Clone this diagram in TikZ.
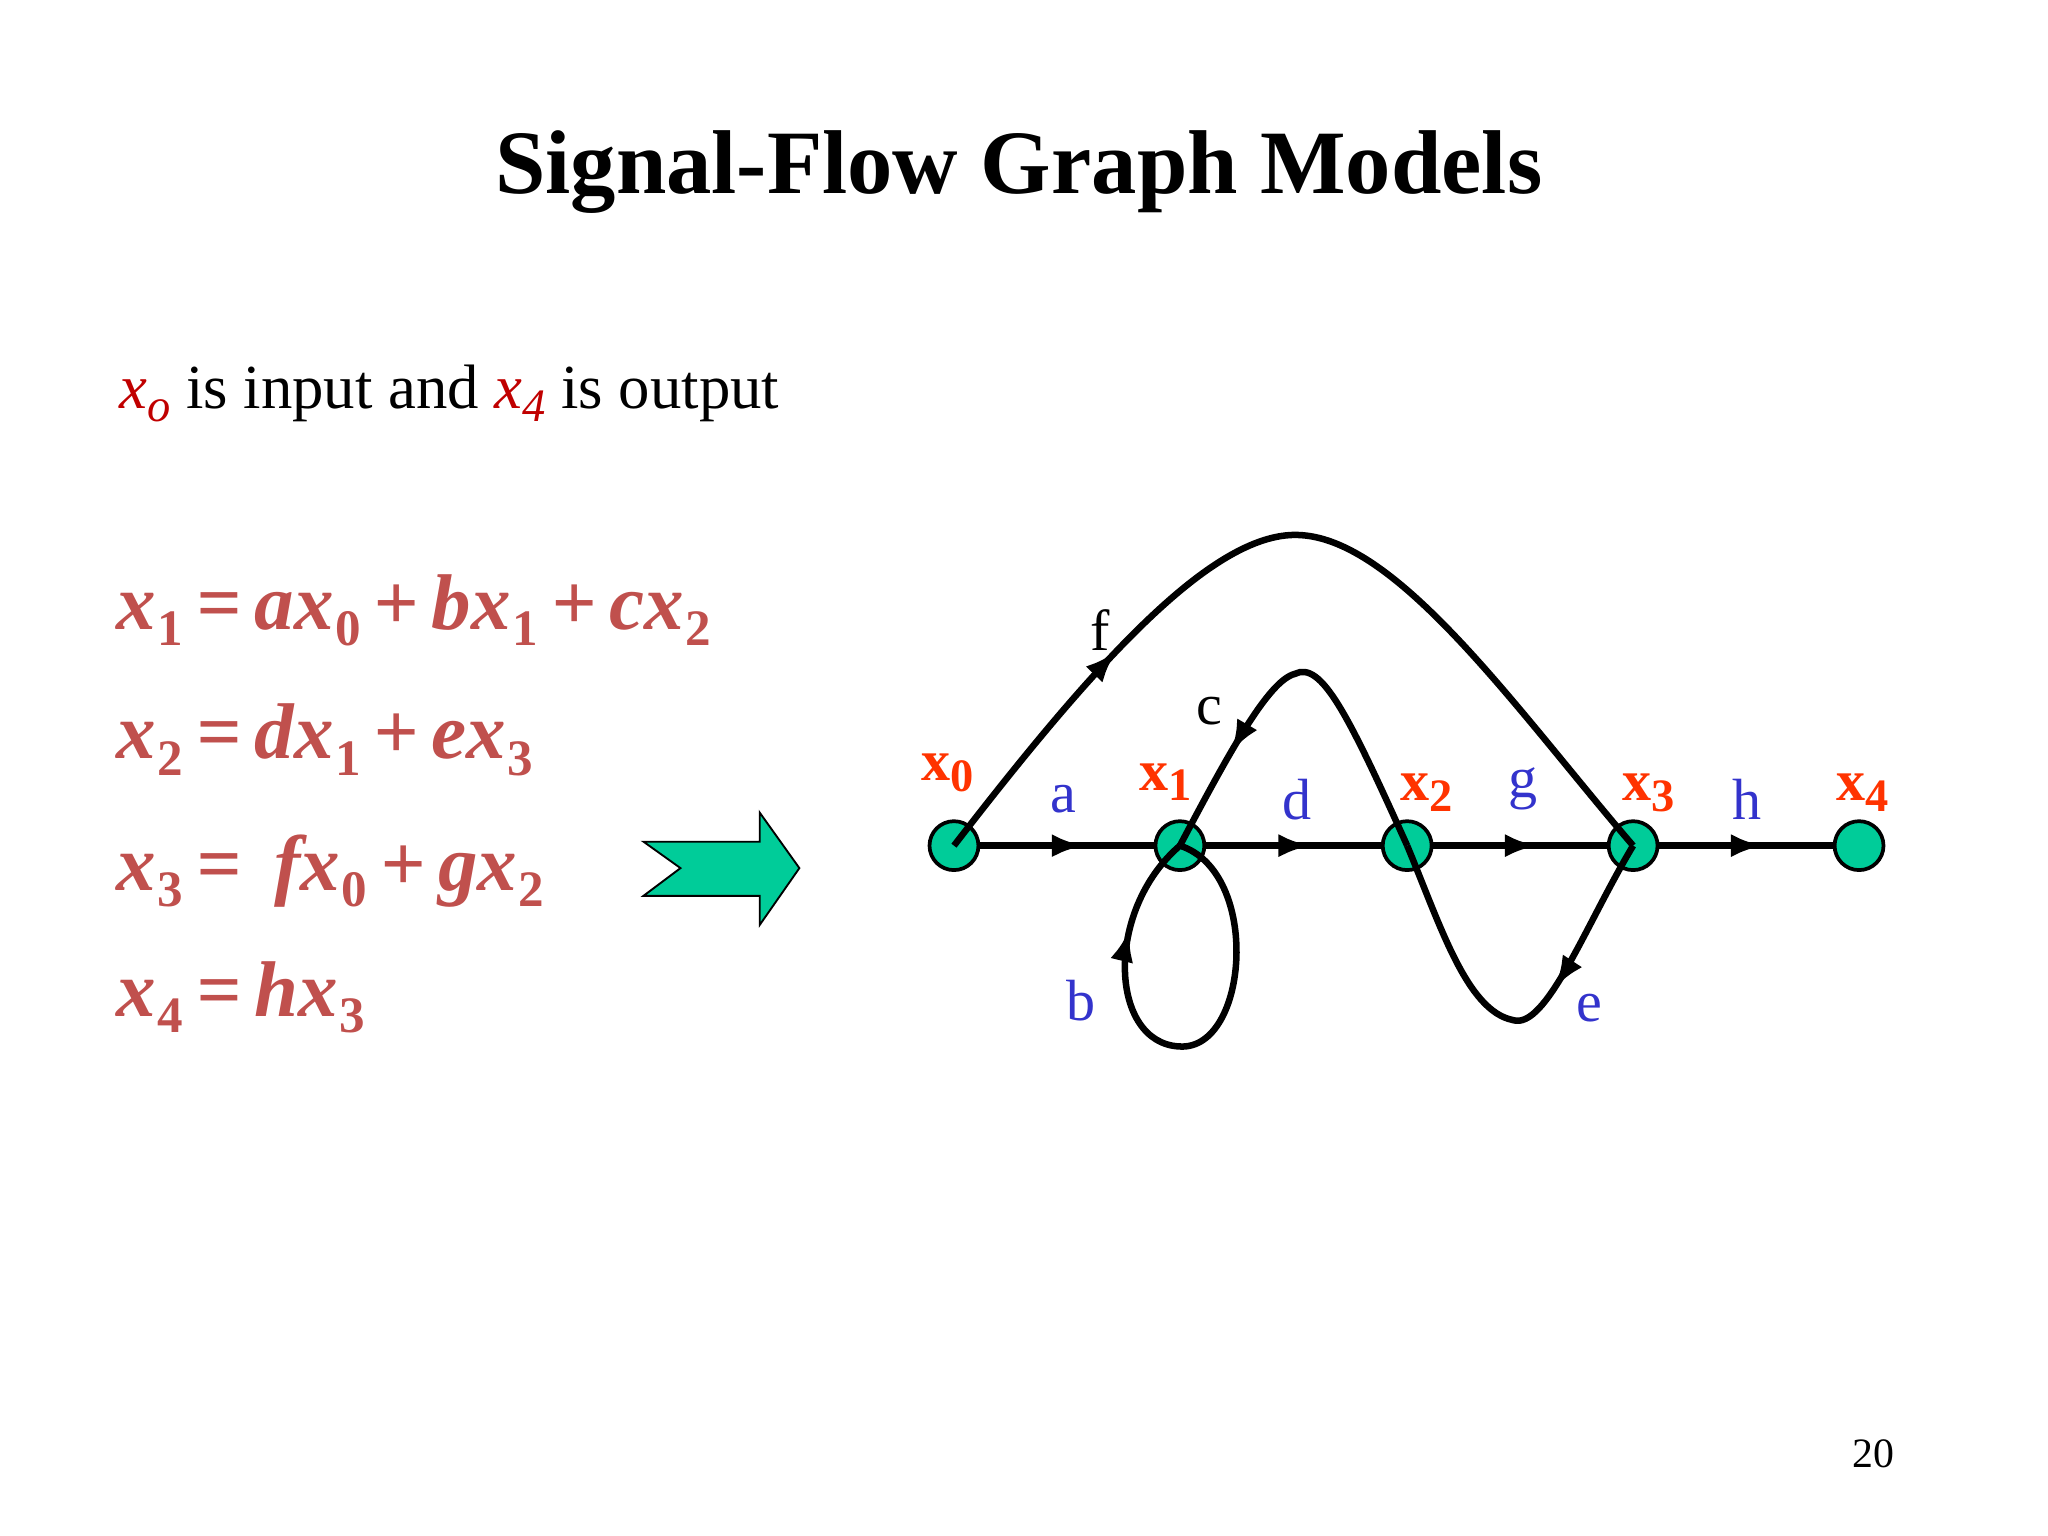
\documentclass[tikz,border=0pt]{standalone}
\usepackage{fontspec}
\setmainfont{Liberation Serif}
\usetikzlibrary{decorations.markings,arrows.meta}
\definecolor{eqred}{HTML}{C0504D}
\definecolor{iored}{HTML}{C00000}
\definecolor{lblred}{HTML}{FF3300}
\definecolor{lblblue}{HTML}{3333CC}
\definecolor{nodegreen}{HTML}{00CC99}
\newcommand{\sx}[2]{#1\kern0.3pt\raisebox{-0.45ex}{\upshape\fontsize{11}{11}\selectfont #2}}
\tikzset{
  sfnode/.style={circle,draw=black,fill=nodegreen,line width=0.8pt,minimum size=0.37cm,inner sep=0pt},
  branch/.style={line width=1.4pt,postaction={decorate},
    decoration={markings,mark=at position #1 with {\arrow{Latex[length=7pt,width=5pt]}}}},
  branch/.default=0.5,
  gain/.style={text=lblblue,font=\fontsize{12.5}{12.5}\selectfont},
  nodelbl/.style={text=lblred,font=\bfseries\fontsize{12.5}{12.5}\selectfont},
}
\begin{document}
\begin{tikzpicture}[x=0.01cm,y=-0.01cm]
  \useasboundingbox (0,0) rectangle (1550,1162);

  % Title and text
  \node (title) at (771,130) {\bfseries\fontsize{19.5}{19.5}\selectfont Signal-Flow Graph Models};
  \node[anchor=west] (io) at (78,298) {\fontsize{13.5}{13.5}\selectfont
    \textcolor{iored}{\itshape x\raisebox{-0.45ex}{\fontsize{10}{10}\selectfont o}} is input and
    \textcolor{iored}{\itshape x\raisebox{-0.45ex}{\fontsize{10}{10}\selectfont 4}} is output};

  % Equations
  \begin{scope}[every node/.style={anchor=west,text=eqred,font=\bfseries\itshape\fontsize{17}{17}\selectfont}]
    \node (eq1) at (76,462) {\sx{x}{1}\,=\,a\sx{x}{0}\,+\,b\sx{x}{1}\,+\,c\sx{x}{2}};
    \node (eq2) at (76,560) {\sx{x}{2}\,=\,d\sx{x}{1}\,+\,e\sx{x}{3}};
    \node (eq3) at (76,659) {\sx{x}{3}\,= \,f\sx{x}{0}\,+\,g\sx{x}{2}};
    \node (eq4) at (76,755) {\sx{x}{4}\,=\,h\sx{x}{3}};
  \end{scope}

  % Big arrow
  \draw[fill=nodegreen,draw=black,line width=0.4pt] (487,637) -- (575,637) -- (575,615) -- (605,657)
    -- (575,700) -- (575,678) -- (487,678) -- (515,657) -- cycle;

  % Nodes
  \node[sfnode] (x0) at (722,640) {};
  \node[sfnode] (x1) at (893,640) {};
  \node[sfnode] (x2) at (1065,640) {};
  \node[sfnode] (x3) at (1236,640) {};
  \node[sfnode] (x4) at (1407,640) {};

  % Branches
  \draw[branch=0.6] (x0) -- (x1);
  \draw[branch=0.6] (x1) -- (x2);
  \draw[branch=0.6] (x2) -- (x3);
  \draw[branch=0.6] (x3) -- (x4);
  \draw[branch=0.27] (x0.center) .. controls (830,500) and (920,400) .. (985,405)
    .. controls (1060,410) and (1150,540) .. (x3.center);
  \draw[branch=0.75] (x2.center) .. controls (1020,540) and (1000,500) .. (980,510)
    .. controls (960,515) and (930,570) .. (x1.center);
  \draw[branch=0.8] (x1.center) .. controls (955,660) and (945,795) .. (893,792)
    .. controls (840,790) and (835,690) .. (x1.center);
  \draw[branch=0.38] (x3.center) .. controls (1200,700) and (1170,780) .. (1145,772)
    .. controls (1110,765) and (1090,700) .. (x2.center);

  % Labels
  \node[nodelbl] (l0) at (717,585) {x\raisebox{-0.4ex}{\fontsize{10}{10}\selectfont 0}};
  \node[nodelbl] (l1) at (882,592) {x\raisebox{-0.4ex}{\fontsize{10}{10}\selectfont 1}};
  \node[nodelbl] (l2) at (1080,600) {x\raisebox{-0.4ex}{\fontsize{10}{10}\selectfont 2}};
  \node[nodelbl] (l3) at (1248,600) {x\raisebox{-0.4ex}{\fontsize{10}{10}\selectfont 3}};
  \node[nodelbl] (l4) at (1410,600) {x\raisebox{-0.4ex}{\fontsize{10}{10}\selectfont 4}};
  \node[gain] (ga) at (805,605) {a};
  \node[gain] (gd) at (982,605) {d};
  \node[gain] (gg) at (1153,597) {g};
  \node[gain] (gh) at (1322,605) {h};
  \node[gain] (gb) at (818,757) {b};
  \node[gain] (ge) at (1203,763) {e};
  \node[gain,text=black] (gc) at (915,538) {c};
  \node[gain,text=black] (gf) at (833,477) {f};

  \node (page) at (1418,1100) {\fontsize{9}{9}\selectfont 20};
\end{tikzpicture}
\end{document}
